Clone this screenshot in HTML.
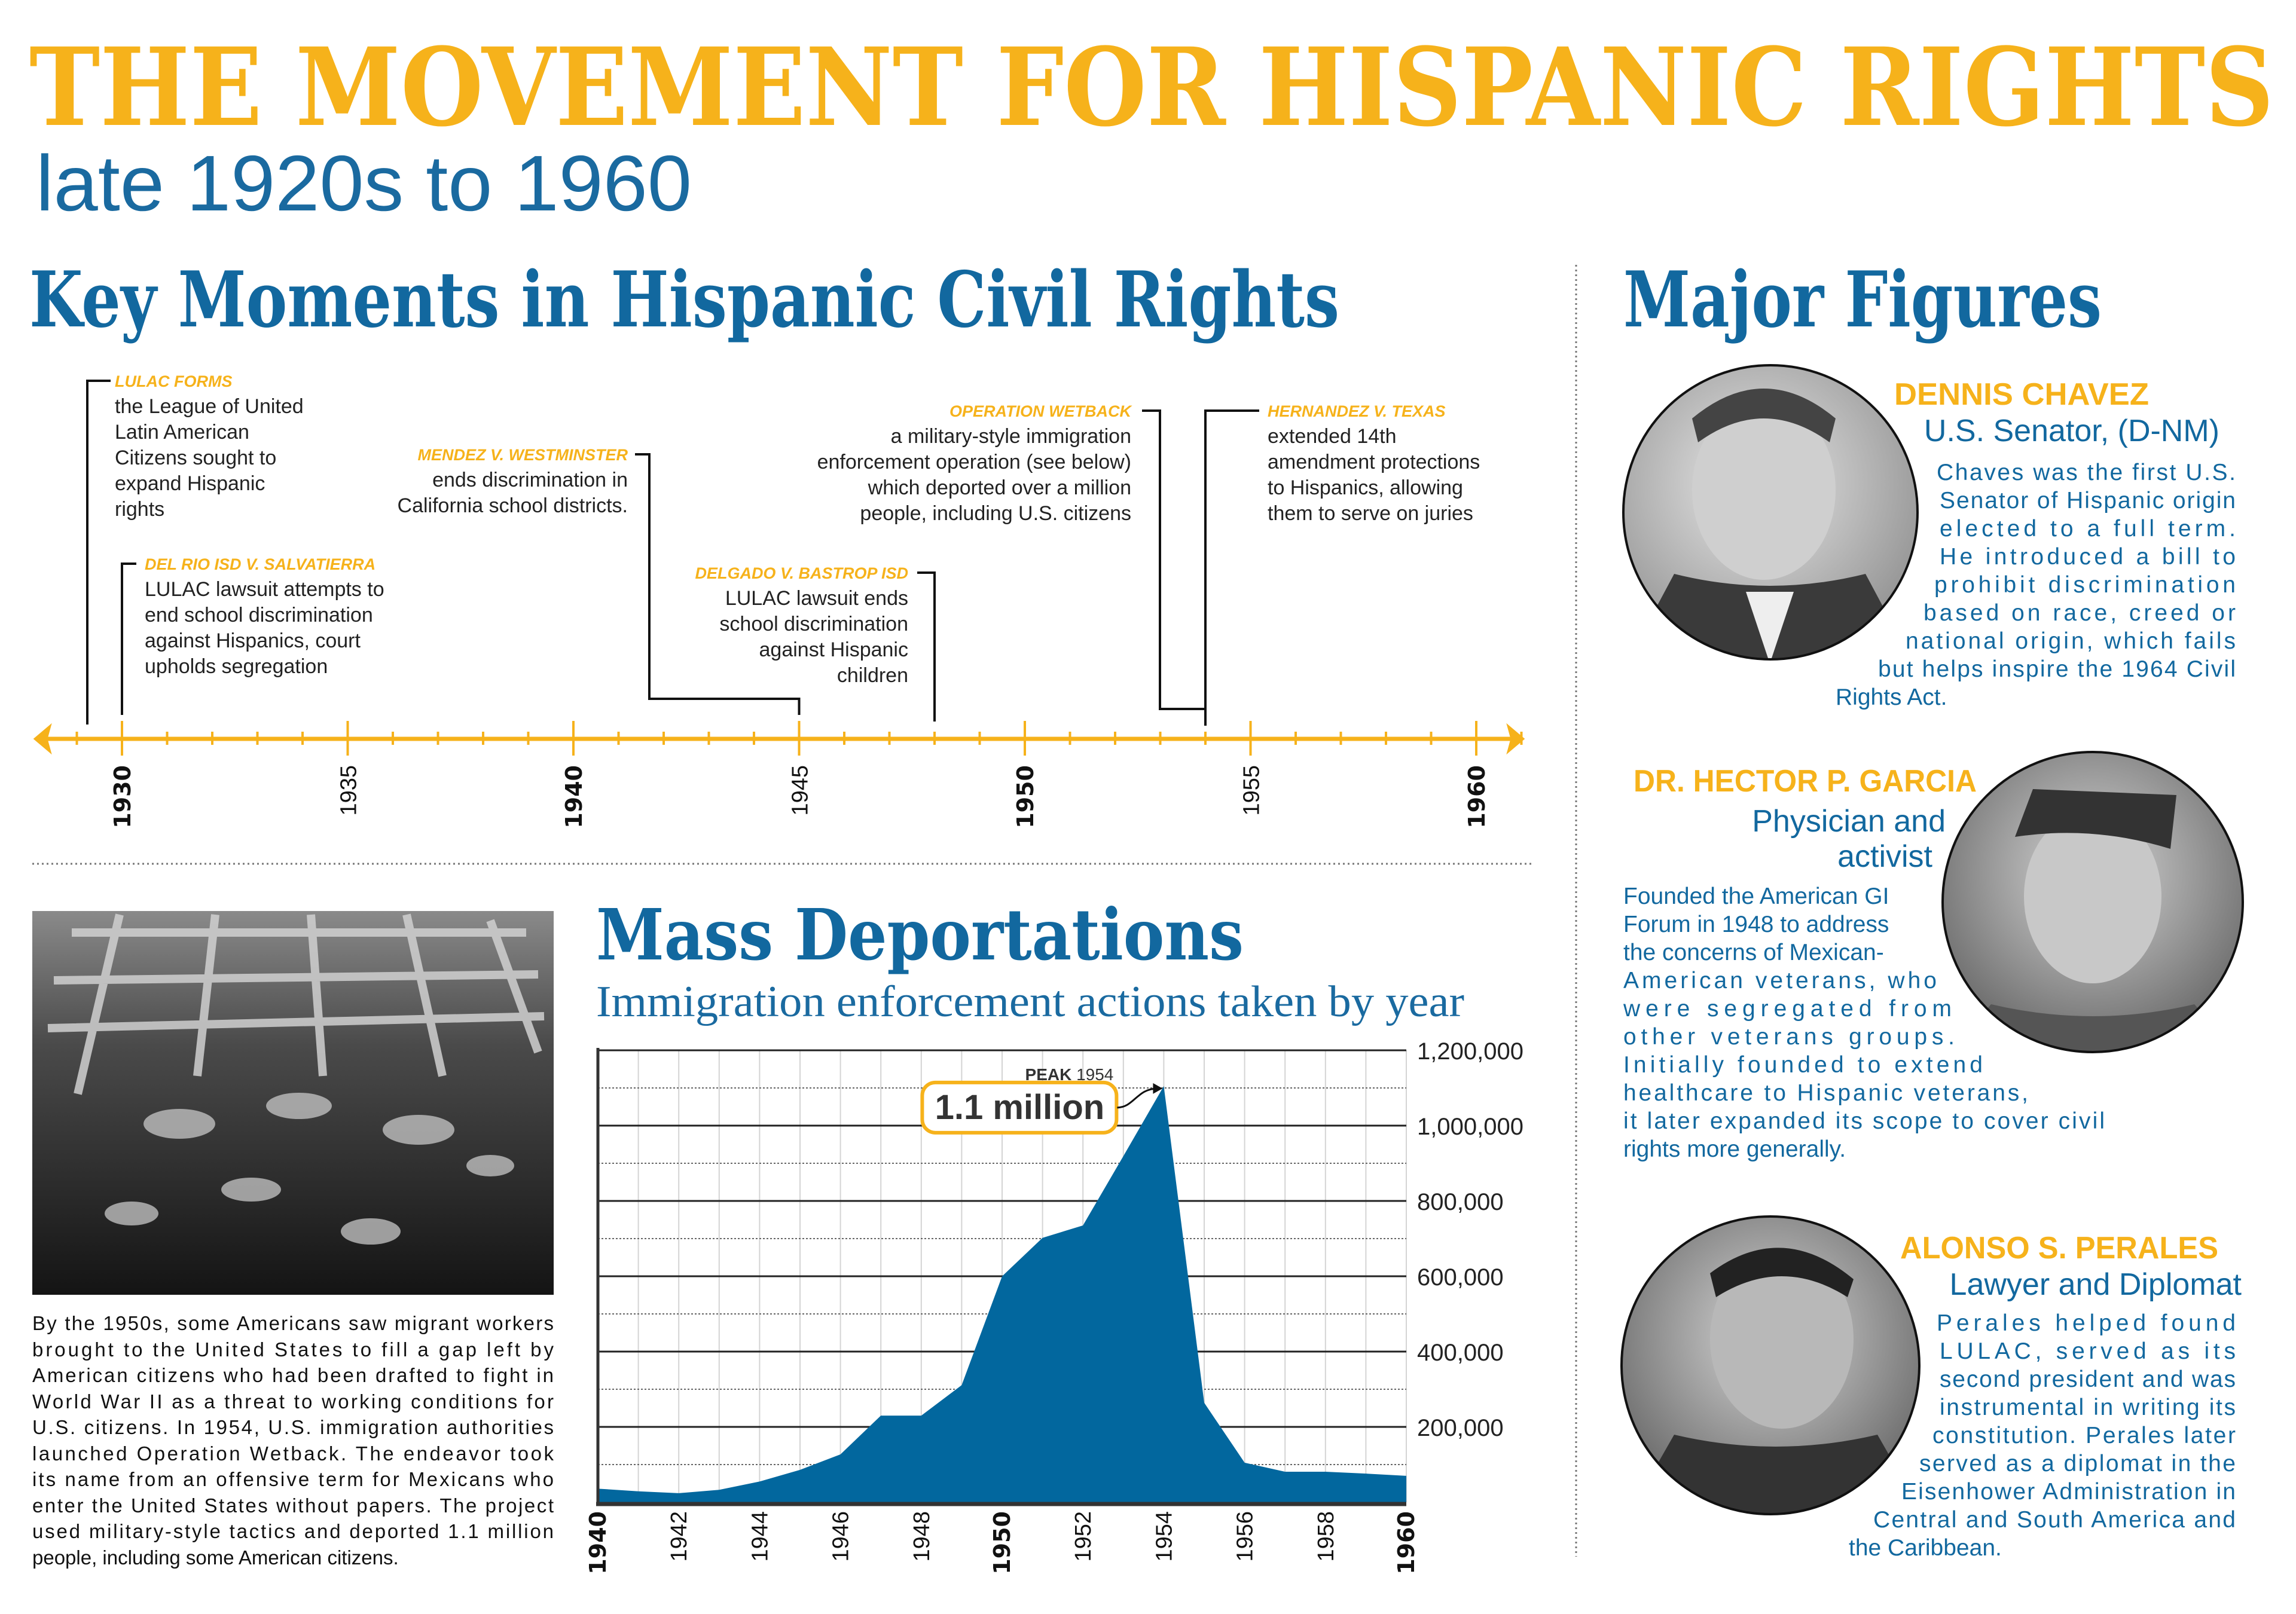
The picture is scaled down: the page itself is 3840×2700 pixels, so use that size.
<!DOCTYPE html>
<html><head><meta charset="utf-8"><style>
html,body{margin:0;padding:0;background:#fff;}
svg{display:block;}
</style></head><body>
<svg id="root" width="3840" height="2700" viewBox="0 0 3840 2700" xmlns="http://www.w3.org/2000/svg">
<defs>
<radialGradient id="pg" cx="0.45" cy="0.4" r="0.7"><stop offset="0" stop-color="#e8e8e8"/><stop offset="1" stop-color="#8a8a8a"/></radialGradient>
<radialGradient id="pg2" cx="0.5" cy="0.4" r="0.7"><stop offset="0" stop-color="#d6d6d6"/><stop offset="1" stop-color="#5a5a5a"/></radialGradient>
<linearGradient id="ph" x1="0" y1="0" x2="0" y2="1"><stop offset="0" stop-color="#8a8a8a"/><stop offset="0.35" stop-color="#4a4a4a"/><stop offset="1" stop-color="#141414"/></linearGradient>
<clipPath id="c1"><circle cx="2961" cy="857" r="246"/></clipPath>
<clipPath id="c2"><circle cx="3500" cy="1509" r="251"/></clipPath>
<clipPath id="c3"><circle cx="2961" cy="2284" r="249"/></clipPath>
</defs>

<text x="49" y="209" font-family="DejaVu Serif, serif" font-weight="bold" font-size="180" fill="#F6B21B" textLength="3754" lengthAdjust="spacingAndGlyphs">THE MOVEMENT FOR HISPANIC RIGHTS</text>
<text x="60" y="352" font-family="Liberation Sans, sans-serif" font-size="132" fill="#1a6aa0" textLength="1097" lengthAdjust="spacingAndGlyphs">late 1920s to 1960</text>

<text x="49" y="546" font-family="DejaVu Serif, serif" font-weight="bold" font-size="128" fill="#12689f" textLength="2191" lengthAdjust="spacingAndGlyphs">Key Moments in Hispanic Civil Rights</text>
<text x="2715" y="546" font-family="DejaVu Serif, serif" font-weight="bold" font-size="128" fill="#12689f" textLength="800" lengthAdjust="spacingAndGlyphs">Major Figures</text>

<line x1="2636" y1="443" x2="2636" y2="2604" stroke="#777" stroke-width="3" stroke-dasharray="3,5"/>
<line x1="54" y1="1445" x2="2565" y2="1445" stroke="#777" stroke-width="3" stroke-dasharray="3,5"/>

<g id="timeline"></g>

<g>
<rect x="54" y="1524" width="872" height="642" fill="url(#ph)"/>
<g stroke="#d0d0d0" stroke-width="14" fill="none" opacity="0.85">
<path d="M120 1560 L880 1560 M90 1640 L900 1630 M80 1720 L910 1700 M200 1530 L130 1830 M360 1530 L330 1800 M520 1530 L540 1800 M680 1530 L740 1800 M820 1540 L900 1760"/>
</g>
<g fill="#c8c8c8" opacity="0.75"><ellipse cx="300" cy="1880" rx="60" ry="25"/><ellipse cx="500" cy="1850" rx="55" ry="22"/><ellipse cx="700" cy="1890" rx="60" ry="25"/><ellipse cx="420" cy="1990" rx="50" ry="20"/><ellipse cx="820" cy="1950" rx="40" ry="18"/><ellipse cx="220" cy="2030" rx="45" ry="20"/><ellipse cx="620" cy="2060" rx="50" ry="22"/></g>
</g>

<g font-family="Liberation Sans, sans-serif" font-size="33" fill="#111">
<text x="54" y="2225" textLength="872" lengthAdjust="spacing">By the 1950s, some Americans saw migrant workers</text>
<text x="54" y="2269" textLength="872" lengthAdjust="spacing">brought to the United States to fill a gap left by</text>
<text x="54" y="2312" textLength="872" lengthAdjust="spacing">American citizens who had been drafted to fight in</text>
<text x="54" y="2356" textLength="872" lengthAdjust="spacing">World War II as a threat to working conditions for</text>
<text x="54" y="2399" textLength="872" lengthAdjust="spacing">U.S. citizens. In 1954, U.S. immigration authorities</text>
<text x="54" y="2443" textLength="872" lengthAdjust="spacing">launched Operation Wetback. The endeavor took</text>
<text x="54" y="2486" textLength="872" lengthAdjust="spacing">its name from an offensive term for Mexicans who</text>
<text x="54" y="2530" textLength="872" lengthAdjust="spacing">enter the United States without papers. The project</text>
<text x="54" y="2573" textLength="872" lengthAdjust="spacing">used military-style tactics and deported 1.1 million</text>
<text x="54" y="2617">people, including some American citizens.</text>
</g>

<text x="997" y="1605" font-family="DejaVu Serif, serif" font-weight="bold" font-size="118" fill="#12689f" textLength="1083" lengthAdjust="spacingAndGlyphs">Mass Deportations</text>
<text x="997" y="1700" font-family="Liberation Serif, serif" font-size="74" fill="#1a6aa0" textLength="1452" lengthAdjust="spacingAndGlyphs">Immigration enforcement actions taken by year</text>

<g id="chart"></g>

<g>
<circle cx="2961" cy="857" r="246" fill="url(#pg)"/>
<g clip-path="url(#c1)"><ellipse cx="2950" cy="820" rx="120" ry="150" fill="#cfcfcf"/><path d="M2830 700 Q2950 600 3070 700 L3060 740 Q2950 660 2840 740Z" fill="#444"/><path d="M2720 1110 L2800 960 Q2960 1000 3120 960 L3200 1110Z" fill="#3a3a3a"/><path d="M2920 990 L2960 1110 L3000 990Z" fill="#eee"/></g>
<circle cx="2961" cy="857" r="246" fill="none" stroke="#111" stroke-width="4"/>
</g>
<g font-family="Liberation Sans, sans-serif">
<text x="3594" y="677" text-anchor="end" font-weight="bold" font-size="52" fill="#F6B21B" textLength="426" lengthAdjust="spacingAndGlyphs">DENNIS CHAVEZ</text>
<text x="3712" y="738" text-anchor="end" font-size="52" fill="#12689f">U.S. Senator, (D-NM)</text>
<g font-size="39" fill="#12689f">
<text x="3239" y="803" textLength="500" lengthAdjust="spacing">Chaves was the first U.S.</text>
<text x="3244" y="850" textLength="495" lengthAdjust="spacing">Senator of Hispanic origin</text>
<text x="3244" y="897" textLength="495" lengthAdjust="spacing">elected to a full term.</text>
<text x="3244" y="944" textLength="495" lengthAdjust="spacing">He introduced a bill to</text>
<text x="3235" y="991" textLength="504" lengthAdjust="spacing">prohibit discrimination</text>
<text x="3217" y="1038" textLength="522" lengthAdjust="spacing">based on race, creed or</text>
<text x="3187" y="1085" textLength="552" lengthAdjust="spacing">national origin, which fails</text>
<text x="3141" y="1132" textLength="598" lengthAdjust="spacing">but helps inspire the 1964 Civil</text>
<text x="3070" y="1179">Rights Act.</text>
</g></g>

<g>
<circle cx="3500" cy="1509" r="251" fill="url(#pg2)"/>
<g clip-path="url(#c2)"><ellipse cx="3500" cy="1500" rx="115" ry="145" fill="#c8c8c8"/><path d="M3370 1400 L3400 1320 L3640 1330 L3630 1420 Q3500 1380 3370 1400Z" fill="#333"/><path d="M3250 1770 L3330 1680 Q3500 1720 3670 1680 L3750 1770Z" fill="#555"/></g>
<circle cx="3500" cy="1509" r="251" fill="none" stroke="#111" stroke-width="4"/>
</g>
<g font-family="Liberation Sans, sans-serif">
<text x="2732" y="1324" font-weight="bold" font-size="52" fill="#F6B21B" textLength="574" lengthAdjust="spacingAndGlyphs">DR. HECTOR P. GARCIA</text>
<text x="3254" y="1391" text-anchor="end" font-size="52" fill="#12689f">Physician and</text>
<text x="3232" y="1450" text-anchor="end" font-size="52" fill="#12689f">activist</text>
<g font-size="39" fill="#12689f">
<text x="2715" y="1512">Founded the American GI</text>
<text x="2715" y="1559">Forum in 1948 to address</text>
<text x="2715" y="1606">the concerns of Mexican-</text>
<text x="2715" y="1653" textLength="524" lengthAdjust="spacing">American veterans, who</text>
<text x="2715" y="1700" textLength="549" lengthAdjust="spacing">were segregated from</text>
<text x="2715" y="1747" textLength="554" lengthAdjust="spacing">other veterans groups.</text>
<text x="2715" y="1794" textLength="601" lengthAdjust="spacing">Initially founded to extend</text>
<text x="2715" y="1841" textLength="677" lengthAdjust="spacing">healthcare to Hispanic veterans,</text>
<text x="2715" y="1888" textLength="805" lengthAdjust="spacing">it later expanded its scope to cover civil</text>
<text x="2715" y="1935">rights more generally.</text>
</g></g>

<g>
<circle cx="2961" cy="2284" r="249" fill="url(#pg2)"/>
<g clip-path="url(#c3)"><ellipse cx="2980" cy="2240" rx="120" ry="150" fill="#b8b8b8"/><path d="M2860 2130 Q2980 2040 3100 2140 L3090 2170 Q2980 2100 2870 2170Z" fill="#222"/><path d="M2720 2540 L2800 2400 Q2970 2440 3140 2400 L3220 2540Z" fill="#333"/></g>
<circle cx="2961" cy="2284" r="249" fill="none" stroke="#111" stroke-width="4"/>
</g>
<g font-family="Liberation Sans, sans-serif">
<text x="3710" y="2105" text-anchor="end" font-weight="bold" font-size="52" fill="#F6B21B" textLength="532" lengthAdjust="spacingAndGlyphs">ALONSO S. PERALES</text>
<text x="3749" y="2166" text-anchor="end" font-size="52" fill="#12689f">Lawyer and Diplomat</text>
<g font-size="39" fill="#12689f">
<text x="3239" y="2226" textLength="500" lengthAdjust="spacing">Perales helped found</text>
<text x="3244" y="2273" textLength="495" lengthAdjust="spacing">LULAC, served as its</text>
<text x="3244" y="2320" textLength="495" lengthAdjust="spacing">second president and was</text>
<text x="3244" y="2367" textLength="495" lengthAdjust="spacing">instrumental in writing its</text>
<text x="3232" y="2414" textLength="507" lengthAdjust="spacing">constitution. Perales later</text>
<text x="3210" y="2461" textLength="529" lengthAdjust="spacing">served as a diplomat in the</text>
<text x="3180" y="2508" textLength="559" lengthAdjust="spacing">Eisenhower Administration in</text>
<text x="3133" y="2555" textLength="606" lengthAdjust="spacing">Central and South America and</text>
<text x="3092" y="2602">the Caribbean.</text>
</g></g>
</svg>

<script>
const NS = "http://www.w3.org/2000/svg";
const years = [1940,1941,1942,1943,1944,1945,1946,1947,1948,1949,1950,1951,1952,1953,1954,1955,1956,1957,1958,1959,1960];
const apprehensions = [36000,29000,24000,33000,55000,86000,127000,230000,230000,311000,600000,702000,735000,919000,1105000,264000,105000,81000,81000,76000,70000];
const yTicks = [200000,400000,600000,800000,1000000,1200000];
const yTickLabels = ["200,000","400,000","600,000","800,000","1,000,000","1,200,000"];
const xTickYears = [1940,1942,1944,1946,1948,1950,1952,1954,1956,1958,1960];
const boldYears = [1940,1950,1960];
const peakYear = 1954;
const tlMajorYears = [1930,1935,1940,1945,1950,1955,1960];

function mk(tag, attrs, parent, txt){
  const e = document.createElementNS(NS, tag);
  for (const k in attrs) e.setAttribute(k, attrs[k]);
  if (txt !== undefined) e.textContent = txt;
  parent.appendChild(e);
  return e;
}

const chart = document.getElementById('chart');
const X0 = 1000, X1 = 2352, Y0 = 2513, Y1 = 1757, VMAX = 1200000;
const xs = y => X0 + (y - years[0]) / (years[years.length-1] - years[0]) * (X1 - X0);
const ys = v => Y0 - v / VMAX * (Y0 - Y1);

for (let yr = years[0]; yr <= years[years.length-1]; yr++) {
  const l = mk('line', {x1: xs(yr), x2: xs(yr), y1: Y1, y2: Y0, stroke: '#d4d4d4', 'stroke-width': 2}, chart);
  
  
}
for (let v = 100000; v <= VMAX; v += 100000) {
  const major = v % 200000 === 0;
  const l = mk('line', {x1: X0, x2: X1, y1: ys(v), y2: ys(v), stroke: major ? '#222' : '#666', 'stroke-width': major ? 3 : 2, 'stroke-dasharray': major ? 'none' : '3,3'}, chart);
  
  
}
let d = 'M' + xs(years[0]) + ' ' + Y0;
years.forEach((y, i) => { d += ' L' + xs(y) + ' ' + ys(apprehensions[i]); });
d += ' L' + xs(years[years.length-1]) + ' ' + Y0 + ' Z';
const area = mk('path', {d: d, fill: '#02679e'}, chart);



const axL = mk('line', {x1: X0, x2: X0, y1: Y1 - 4, y2: Y0 + 4, stroke: '#333', 'stroke-width': 5}, chart);


const axB = mk('line', {x1: X0 - 3, x2: X1, y1: Y0 + 3, y2: Y0 + 3, stroke: '#333', 'stroke-width': 7}, chart);



yTicks.forEach((v, i) => {
  const t = mk('text', {x: 2370, y: ys(v) + 15, 'font-family': 'Liberation Sans, sans-serif', 'font-size': 40, fill: '#222'}, chart, yTickLabels[i]);
  
  
});
xTickYears.forEach(yr => {
  const b = boldYears.includes(yr);
  const t = mk('text', {x: 0, y: 0, transform: 'translate(' + (xs(yr) + 13) + ',2528) rotate(-90)', 'text-anchor': 'end', 'font-family': b ? 'DejaVu Sans, sans-serif' : 'Liberation Sans, sans-serif', 'font-weight': b ? 'bold' : 'normal', 'font-size': 38, fill: '#111'}, chart, String(yr));
  
  
});

const pi = years.indexOf(peakYear);
const px = xs(peakYear), py = ys(apprehensions[pi]);
const pk = mk('text', {x: px - 84, y: py - 10, 'text-anchor': 'end', 'font-family': 'Liberation Sans, sans-serif', 'font-size': 28, fill: '#333'}, chart);


mk('tspan', {'font-weight': 'bold'}, pk, 'PEAK ');
mk('tspan', {}, pk, String(peakYear));
const bx = mk('rect', {x: px - 404, y: py - 6, width: 325, height: 84, rx: 22, fill: '#fff', stroke: '#F6B21B', 'stroke-width': 6}, chart);


const bt = mk('text', {x: px - 241, y: py + 55, 'text-anchor': 'middle', 'font-family': 'Liberation Sans, sans-serif', 'font-weight': 'bold', 'font-size': 58, fill: '#333'}, chart, (apprehensions[pi] / 1e6).toFixed(1) + ' million');


const ar = mk('path', {d: 'M' + (px - 78) + ' ' + (py + 36) + ' C' + (px - 50) + ' ' + (py + 36) + ' ' + (px - 45) + ' ' + (py + 4) + ' ' + (px - 10) + ' ' + (py + 4), fill: 'none', stroke: '#111', 'stroke-width': 3}, chart);


const ah = mk('path', {d: 'M' + (px - 2) + ' ' + (py + 4) + ' l-16 -9 l0 18 z', fill: '#111'}, chart);



const tl = document.getElementById('timeline');
const TX = yr => 204 + (yr - 1930) * 75.5;
const AY = 1236, GOLD = '#F6B21B';
const axisLine = mk('line', {x1: 66, x2: 2538, y1: AY, y2: AY, stroke: GOLD, 'stroke-width': 7}, tl);


const la = mk('path', {d: 'M58 ' + AY + ' l26 -22 l-6 22 l6 22 z', fill: GOLD, stroke: GOLD, 'stroke-width': 3}, tl);


const ra = mk('path', {d: 'M2548 ' + AY + ' l-26 -22 l6 22 l-6 22 z', fill: GOLD, stroke: GOLD, 'stroke-width': 3}, tl);


for (let yr = 1929; yr <= 1961; yr++) {
  const major = tlMajorYears.includes(yr);
  const tk = mk('line', {x1: TX(yr), x2: TX(yr), y1: major ? 1206 : 1224, y2: major ? 1264 : 1246, stroke: GOLD, 'stroke-width': 4}, tl);
  
  
}
tlMajorYears.forEach(yr => {
  const b = yr % 10 === 0;
  const t = mk('text', {x: 0, y: 0, transform: 'translate(' + (TX(yr) + 14) + ',1280) rotate(-90)', 'text-anchor': 'end', 'font-family': b ? 'DejaVu Sans, sans-serif' : 'Liberation Sans, sans-serif', 'font-weight': b ? 'bold' : 'normal', 'font-size': 38, fill: '#111'}, tl, String(yr));
  
  
});

function bracket(pts, name){
  const p = mk('polyline', {points: pts, fill: 'none', stroke: '#111', 'stroke-width': 4}, tl);
  
  
}
function event(name, x, y, anchor, title, lines){
  const g = mk('g', {}, tl);
  
  
  mk('text', {x: x, y: y + 10, 'text-anchor': anchor, 'font-family': 'Liberation Sans, sans-serif', 'font-weight': 'bold', 'font-style': 'italic', 'font-size': 27, fill: GOLD}, g, title);
  lines.forEach((ln, i) => mk('text', {x: x, y: y + 54 + i * 43, 'text-anchor': anchor, 'font-family': 'Liberation Sans, sans-serif', 'font-size': 34, fill: '#222'}, g, ln));
}
bracket('185,637 146,637 146,1212', 'lulac-bracket');
event('event-lulac-forms', 192, 637, 'start', 'LULAC FORMS', ['the League of United','Latin American','Citizens sought to','expand Hispanic','rights']);
bracket('228,943 204,943 ' + TX(1930) + ',1196', 'del-rio-bracket');
event('event-del-rio', 242, 943, 'start', 'DEL RIO ISD V. SALVATIERRA', ['LULAC lawsuit attempts to','end school discrimination','against Hispanics, court','upholds segregation']);
bracket('1062,760 1086,760 1086,1169 ' + TX(1945) + ',1169 ' + TX(1945) + ',1196', 'mendez-bracket');
event('event-mendez', 1050, 760, 'end', 'MENDEZ V. WESTMINSTER', ['ends discrimination in','California school districts.']);
bracket('1534,958 ' + TX(1948) + ',958 ' + TX(1948) + ',1207', 'delgado-bracket');
event('event-delgado', 1519, 958, 'end', 'DELGADO V. BASTROP ISD', ['LULAC lawsuit ends','school discrimination','against Hispanic','children']);
bracket('1910,687 1940,687 1940,1186 ' + TX(1954) + ',1186', 'wetback-bracket');
event('event-operation-wetback', 1892, 687, 'end', 'OPERATION WETBACK', ['a military-style immigration','enforcement operation (see below)','which deported over a million','people, including U.S. citizens']);
bracket('2106,687 ' + TX(1954) + ',687 ' + TX(1954) + ',1214', 'hernandez-bracket');
event('event-hernandez', 2120, 687, 'start', 'HERNANDEZ V. TEXAS', ['extended 14th','amendment protections','to Hispanics, allowing','them to serve on juries']);
</script>
</body></html>
